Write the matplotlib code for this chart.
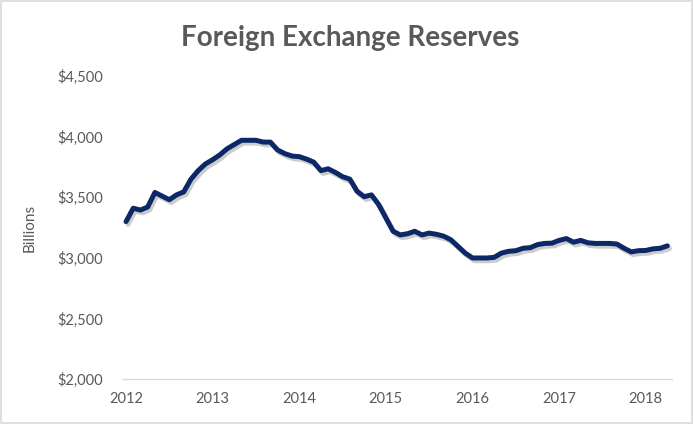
import matplotlib
matplotlib.use("Agg")
import matplotlib.pyplot as plt
import matplotlib.patheffects as pe
import matplotlib.ticker as mticker
from matplotlib.patches import Rectangle
import numpy as np

title = "Foreign Exchange Reserves"
ylabel = "Billions"
start_year = 2012
reserves = [3300, 3410, 3395, 3420, 3540, 3510, 3480, 3520, 3545, 3650, 3720, 3775,
            3810, 3850, 3900, 3935, 3970, 3970, 3970, 3955, 3955, 3890, 3860, 3840,
            3835, 3815, 3790, 3720, 3735, 3705, 3670, 3650, 3550, 3505, 3520, 3440,
            3330, 3220, 3190, 3200, 3220, 3190, 3205, 3195, 3180, 3150, 3095, 3040,
            3000, 3000, 3000, 3005, 3040, 3055, 3060, 3080, 3085, 3110, 3120, 3122,
            3145, 3160, 3130, 3145, 3125, 3120, 3120, 3120, 3115, 3080, 3050, 3060,
            3062, 3075, 3080, 3100]
year_ticks = [2012, 2013, 2014, 2015, 2016, 2017, 2018]
y_ticks = [2000, 2500, 3000, 3500, 4000, 4500]

x = start_year + np.arange(len(reserves)) / 12.0

fam = ["Lato", "DejaVu Sans"]
grey = "#595959"

fig = plt.figure(figsize=(6.93, 4.24), dpi=100)
ax = fig.add_axes([0.1756, 0.1054, 0.9693 - 0.1756, 0.8208 - 0.1054])

ax.plot(x, reserves, color="#0c2867", lw=3.6, solid_joinstyle="round",
        solid_capstyle="round",
        path_effects=[pe.SimpleLineShadow(offset=(1.5, -2), shadow_color="#000000", alpha=0.2),
                      pe.Normal()])

ax.set_xlim(2011.95, 2018.30)
ax.set_ylim(2000, 4500)
ax.set_yticks(y_ticks)
ax.yaxis.set_major_formatter(mticker.FuncFormatter(lambda v, p: "${:,.0f}".format(v)))
ax.set_xticks(year_ticks)
ax.set_xticklabels([str(y) for y in year_ticks])
for s in ["top", "right", "left"]:
    ax.spines[s].set_visible(False)
ax.spines["bottom"].set_color("#d9d9d9")
ax.spines["bottom"].set_linewidth(1.0)
ax.tick_params(axis="both", length=0, colors=grey, labelsize=10.5)
ax.tick_params(axis="y", pad=13.5)
ax.tick_params(axis="x", pad=9)
for lab in ax.get_xticklabels() + ax.get_yticklabels():
    lab.set_family(fam)

ax.set_ylabel(ylabel, family=fam, color=grey, fontsize=11, labelpad=15)

fig.text(0.505, 0.91, title, ha="center", va="center", family=fam,
         fontsize=20, fontweight="bold", color=grey)

fig.patches.append(Rectangle((0.002, 0.003), 0.996, 0.994, transform=fig.transFigure,
                             fill=False, edgecolor="#d9d9d9", lw=1.2))

fig.savefig("out.png", dpi=100)
